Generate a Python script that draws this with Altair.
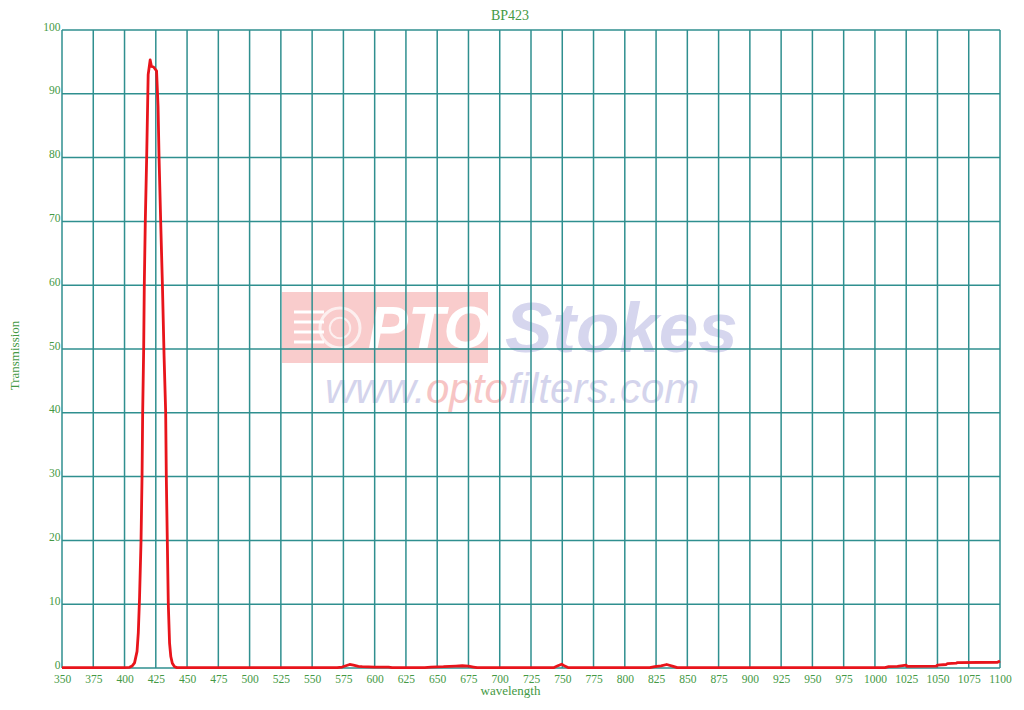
import altair as alt
import pandas as pd

# ---- data ----
wavelength = [350, 400, 404, 406, 408, 410, 411, 412, 413.2, 414, 414.5, 415.3, 415.8,
              416.6, 417.7, 418.9, 420.5, 421.5, 423.2, 425.6, 426.8, 427.6, 428.9, 430.3,
              431.6, 432.9, 433.4, 434.2, 435.0, 436.0, 437.0, 438.2, 440, 442,
              570, 574, 577, 580, 583, 587, 590, 600, 611, 614,
              640, 645, 655, 665, 670, 675, 679, 682,
              743, 746, 749.5, 752, 755,
              820, 824, 829, 833.5, 838, 842,
              1008, 1011, 1018, 1025, 1026, 1049, 1050, 1057, 1058, 1065, 1066, 1098, 1100]
transmission = [0.05, 0.05, 0.1, 0.3, 0.8, 2.6, 5.5, 11, 20, 30, 40, 50, 60,
                70, 80, 93, 95.3, 94.3, 94.2, 93.6, 88, 80, 70, 60,
                49, 40, 30, 20, 10, 3.9, 1.8, 0.75, 0.2, 0.05,
                0.05, 0.15, 0.35, 0.55, 0.45, 0.25, 0.2, 0.15, 0.15, 0.05,
                0.05, 0.15, 0.2, 0.3, 0.35, 0.3, 0.15, 0.05,
                0.05, 0.3, 0.6, 0.3, 0.05,
                0.05, 0.2, 0.35, 0.55, 0.3, 0.05,
                0.05, 0.2, 0.25, 0.45, 0.25, 0.3, 0.45, 0.55, 0.7, 0.75, 0.85, 0.9, 1.1]
x_ticks = list(range(350, 1101, 25))
y_ticks = list(range(0, 101, 10))

title_text = "BP423"
x_title = "wavelength"
y_title = "Transmission"

GRID = "#2f8f8f"
TXT = "#449944"
RED = "#e8141b"
FONT = "Liberation Serif"

df = pd.DataFrame({"wl": wavelength, "T": transmission})
gx = pd.DataFrame({"wl": x_ticks})
gy = pd.DataFrame({"T": y_ticks})

xscale = alt.Scale(domain=[350, 1100], nice=False, zero=False)
yscale = alt.Scale(domain=[0, 100], nice=False)

x_axis = alt.Axis(values=x_ticks, format="d", grid=False, domain=False, ticks=False,
                  labelFont=FONT, labelFontSize=11.5, labelColor=TXT, labelPadding=5,
                  labelFlush=False, labelOverlap=False,
                  title=x_title, titleFont=FONT, titleFontSize=13, titleFontWeight="normal",
                  titleColor=TXT, titleX=448, titleY=26, titleAlign="center",
                  titleBaseline="alphabetic")
y_axis = alt.Axis(values=y_ticks, format="d", grid=False, domain=False, ticks=False,
                  labelFont=FONT, labelFontSize=11.5, labelColor=TXT, labelPadding=2,
                  labelBaseline="alphabetic", labelFlush=False, labelOverlap=False,
                  title=y_title, titleFont=FONT, titleFontSize=13, titleFontWeight="normal",
                  titleColor=TXT, titleX=-48, titleY=325, titleAlign="center",
                  titleBaseline="middle", titleAngle=-90)

one = alt.Data(values=[{"a": 1}])

# ---- watermark (decoration, behind the grid) ----
wm_rect = alt.Chart(one).mark_rect(color="#f9cccc").encode(
    x=alt.value(220), x2=alt.value(426), y=alt.value(262), y2=alt.value(333))
wm_ring1 = alt.Chart(one).mark_point(shape="circle", filled=False, stroke="white",
                                     strokeWidth=3, size=1600).encode(
    x=alt.value(278), y=alt.value(298))
wm_ring2 = alt.Chart(one).mark_point(shape="circle", filled=False, stroke="white",
                                     strokeWidth=2, size=420).encode(
    x=alt.value(278), y=alt.value(298))
wm_lines = alt.Chart(alt.Data(values=[{"y": 282}, {"y": 292}, {"y": 302}, {"y": 312}])).mark_rule(
    stroke="white", strokeWidth=3).encode(
    x=alt.value(232), x2=alt.value(262), y=alt.Y("y:Q", scale=None))


def text_at(txt, x, y, size, color, weight="normal", font="Liberation Sans",
            style="italic", align="left", baseline="alphabetic"):
    return alt.Chart(one).mark_text(text=txt, align=align, baseline=baseline,
                                    font=font, fontStyle=style,
                                    fontWeight=weight, fontSize=size, color=color).encode(
        x=alt.value(x), y=alt.value(y))


wm = [wm_rect, wm_ring1, wm_ring2, wm_lines,
      text_at("PTO", 306, 318, 60, "white", "bold"),
      text_at("Stokes", 443, 322, 71, "#d6d6ee", "bold"),
      text_at("www.", 263, 373, 42, "#d4d4ec"),
      text_at("opto", 364, 373, 42, "#f7c4c4"),
      text_at("filters.com", 446, 373, 42, "#d4d4ec")]

title = text_at(title_text, 448, -14, 14, TXT, font=FONT, style="normal",
                align="center", baseline="middle")

# ---- grid ----
xgrid = alt.Chart(gx).mark_rule(color=GRID, strokeWidth=1.5).encode(
    x=alt.X("wl:Q", scale=xscale, axis=x_axis))
ygrid = alt.Chart(gy).mark_rule(color=GRID, strokeWidth=1.5).encode(
    y=alt.Y("T:Q", scale=yscale, axis=y_axis))

# ---- curve ----
line = alt.Chart(df).mark_line(color=RED, strokeWidth=2.8, strokeJoin="round").encode(
    x=alt.X("wl:Q", scale=xscale, axis=x_axis),
    y=alt.Y("T:Q", scale=yscale, axis=y_axis))

chart = alt.layer(*wm, xgrid, ygrid, line, title).properties(
    width=938, height=638,
    autosize=alt.AutoSizeParams(type="none"),
    padding={"left": 54, "top": 22, "right": 16, "bottom": 34},
    background="white",
).configure_view(strokeWidth=0)

chart.save("out.html", embed_options={"renderer": "svg", "actions": False})
